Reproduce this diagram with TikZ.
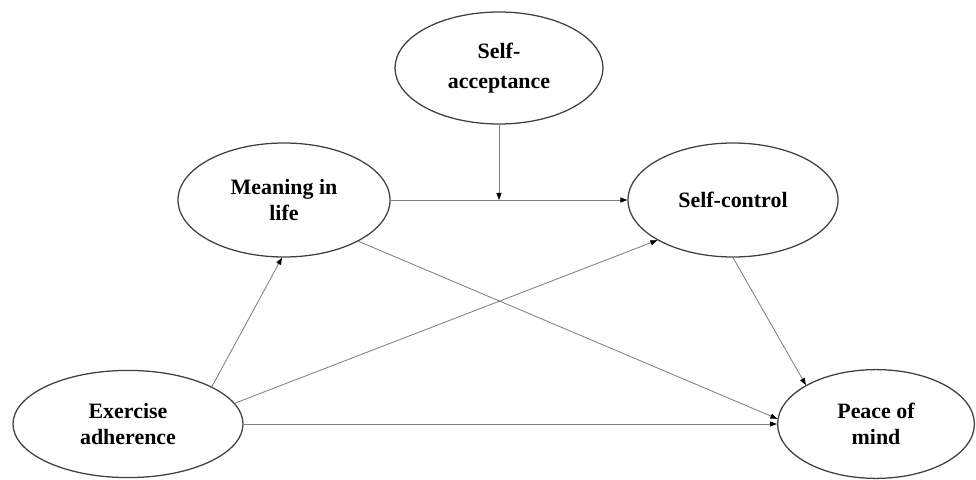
\documentclass[tikz,border=0pt]{standalone}
\usepackage{fontspec}
\setmainfont{Liberation Serif}
\usetikzlibrary{shapes.geometric,arrows.meta}
\colorlet{rimgrey}{black!75}
\colorlet{linkgrey}{black!50}
\tikzset{path/var/.style={ellipse, draw=rimgrey, line width=0.9pt, inner sep=0pt, align=center, font=\fontsize{15.6}{18}\selectfont\bfseries}}
\tikzset{path/link/.style={draw=linkgrey, line width=0.6pt, -{Triangle[length=5pt,width=3.6pt,color=black]}}}

\begin{document}
\begin{tikzpicture}
  \useasboundingbox (0,0) rectangle (24.4,11.975);
\node[path/var, minimum width=5.2cm, minimum height=2.8cm] (selfacc) at (12.475,10.275) {Self-\\[3pt]acceptance};
\node[path/var, minimum width=5.3cm, minimum height=2.85cm] (meaning) at (7.100,6.975) {Meaning in\\life};
\node[path/var, minimum width=5.25cm, minimum height=2.85cm] (selfctrl) at (18.325,6.975) {Self-control};
\node[path/var, minimum width=5.75cm, minimum height=2.68cm] (exercise) at (3.200,1.375) {Exercise\\adherence};
\node[path/var, minimum width=4.92cm, minimum height=2.72cm] (peace) at (21.900,1.375) {Peace of\\mind};
\draw[path/link] (exercise.24) -- (meaning.268);
\draw[path/link] (exercise.11) -- (selfctrl.208);
\draw[path/link] (exercise.east) -- (peace.west);
\draw[path/link] (meaning.331) -- (peace.177);
\draw[path/link] (selfctrl.south) -- (peace.151);
\draw[path/link] (meaning.east) -- (selfctrl.west);
\coordinate (moderate) at (selfacc.south |- meaning.east);
\draw[path/link] (selfacc.south) -- (moderate);

\end{tikzpicture}
\end{document}
